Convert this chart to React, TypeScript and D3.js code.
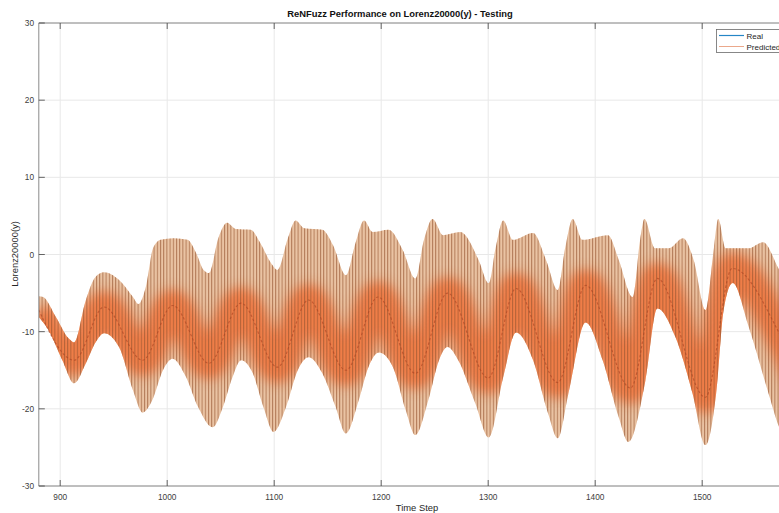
import React from 'react';
import * as d3 from 'd3';

const W = 779;
const H = 513;

const xTicks = [900, 1000, 1100, 1200, 1300, 1400, 1500];
const yTicks = [-30, -20, -10, 0, 10, 20, 30];

const titleText = 'ReNFuzz Performance on Lorenz20000(y) - Testing';
const xLabelText = 'Time Step';
const yLabelText = 'Lorenz20000(y)';
const legendLabels = ['Real', 'Predicted'];

// Real series (smooth curve), key points
const realSteps = [880, 913, 941, 977, 1005, 1039, 1069, 1103, 1132, 1167, 1197, 1232, 1262, 1300, 1326, 1365, 1391, 1433, 1458, 1503, 1528, 1572, 1600];
const realValues = [-7.2, -13.7, -6.8, -13.7, -6.6, -14.1, -6.3, -14.6, -5.9, -15.0, -5.5, -15.4, -5.0, -16.0, -4.4, -16.6, -4.0, -17.3, -3.1, -18.5, -1.8, -10.2, -19];

// Predicted series: upper envelope of the fast oscillation
const predUpperSteps = [880, 884, 896, 908, 913, 924, 933, 941, 955, 968, 973, 980, 987, 994, 1006, 1019, 1027, 1034, 1039, 1048, 1056, 1064, 1078, 1087, 1097, 1103, 1113, 1120, 1128, 1145, 1155, 1167, 1176, 1184, 1192, 1207, 1220, 1232, 1240, 1248, 1258, 1274, 1291, 1300.5, 1307, 1314, 1323, 1342, 1354, 1365, 1372, 1379, 1388, 1412, 1422, 1435, 1442, 1446, 1456, 1469, 1482, 1492, 1503, 1511, 1515, 1522, 1543, 1557, 1572, 1590];
const predUpperValues = [-5.4, -5.5, -8.1, -10.9, -11.4, -5.9, -2.9, -2.3, -3.3, -5.5, -6.4, -4.2, 0.9, 1.9, 2.1, 1.9, 0.2, -2.0, -2.4, 2.2, 4.1, 3.3, 3.2, 1.5, -1.1, -2.0, 2.2, 4.4, 3.4, 3.2, 1.2, -2.7, 1.5, 4.4, 2.9, 3.2, 0.6, -3.1, 1.9, 4.6, 2.5, 2.9, -0.7, -3.7, 0.9, 4.4, 1.9, 2.8, -0.7, -4.6, 0.9, 4.6, 1.9, 2.5, -0.7, -5.5, 1.9, 4.6, 0.8, 0.8, 2.1, -0.7, -7.2, 0.9, 4.6, 0.8, 0.8, 1.6, -2.0, -6.0];

// Predicted series: lower envelope of the fast oscillation
const predLowerSteps = [880, 889, 902, 913, 924, 933, 941, 955, 968, 977, 986, 996, 1005, 1017, 1029, 1042.5, 1052, 1061, 1069, 1080, 1090, 1099.5, 1111, 1122, 1132, 1145, 1157.5, 1167, 1179, 1188, 1198, 1211, 1223, 1232, 1244, 1254, 1262, 1272, 1288, 1300.5, 1314, 1326, 1342, 1356, 1365, 1375, 1391, 1407, 1422, 1431, 1447, 1458, 1475, 1491, 1503, 1513, 1520, 1528.5, 1543.5, 1562, 1572, 1590];
const predLowerValues = [-8.1, -9.8, -13.7, -16.7, -14.1, -11.4, -10.2, -12.0, -17.6, -20.5, -18.9, -15.0, -13.5, -15.7, -19.8, -22.4, -19.8, -15.9, -13.7, -15.4, -19.8, -23.0, -19.8, -15.0, -13.3, -15.4, -19.8, -23.2, -18.9, -14.6, -12.7, -14.6, -20.2, -23.4, -18.9, -13.7, -12.0, -13.7, -19.3, -23.7, -15.9, -10.1, -13.7, -20.6, -23.8, -18.0, -8.8, -13.7, -21.1, -24.3, -16.3, -7.0, -10.7, -18.0, -24.7, -18.0, -7.2, -3.7, -9.4, -18.0, -22.4, -25.5];

const FONT = '"Liberation Sans", Arial, Helvetica, sans-serif';

export default function App() {
  const left = 38.8;
  const top = 23;
  const bottom = 486;
  const x = d3.scaleLinear().domain([880, 1600]).range([left, 809.2]);
  const y = d3.scaleLinear().domain([-30, 30]).range([bottom, top]);

  type P = [number, number];
  const real: P[] = realSteps.map((t, i) => [t, realValues[i]]);
  const upper: P[] = predUpperSteps.map((t, i) => [t, predUpperValues[i]]);
  const lower: P[] = predLowerSteps.map((t, i) => [t, predLowerValues[i]]);

  const belowUpper = d3
    .area<P>()
    .x((d) => x(d[0]))
    .y0(700)
    .y1((d) => y(d[1]))
    .curve(d3.curveMonotoneX)(upper) as string;
  const aboveLower = d3
    .area<P>()
    .x((d) => x(d[0]))
    .y0(-200)
    .y1((d) => y(d[1]))
    .curve(d3.curveMonotoneX)(lower) as string;
  const realPath = d3
    .line<P>()
    .x((d) => x(d[0]))
    .y((d) => y(d[1]))
    .curve(d3.curveMonotoneX)(real) as string;

  const plotRight = W + 5;

  return (
    <div style={{ position: 'absolute', left: 0, top: 0, width: W, height: H, background: '#fff' }}>
      <svg width={W} height={H} style={{ display: 'block' }} fontFamily={FONT}>
        <defs>
          <clipPath id="plotClip">
            <rect x={left} y={top} width={plotRight - left} height={bottom - top} />
          </clipPath>
          <clipPath id="belowUpper">
            <path d={belowUpper} />
          </clipPath>
          <clipPath id="aboveLower">
            <path d={aboveLower} />
          </clipPath>
          <pattern id="stripes" patternUnits="userSpaceOnUse" width={3.2} height={20}>
            <rect x={0} y={0} width={1.0} height={20} fill="#93532f" />
          </pattern>
          <filter id="glow" x="-5%" y="-50%" width="110%" height="200%">
            <feGaussianBlur stdDeviation={6} />
          </filter>
        </defs>

        <rect x={0} y={0} width={W} height={H} fill="#fff" />

        {/* grid */}
        <g stroke="#e8e8e8" strokeWidth={1}>
          {xTicks.map((t) => (
            <line key={'gx' + t} x1={x(t)} x2={x(t)} y1={top} y2={bottom} />
          ))}
          {yTicks.map((v) => (
            <line key={'gy' + v} x1={left} x2={plotRight} y1={y(v)} y2={y(v)} />
          ))}
        </g>

        {/* predicted band */}
        <g clipPath="url(#plotClip)">
          <g clipPath="url(#belowUpper)">
            <g clipPath="url(#aboveLower)">
              <rect x={left} y={top} width={plotRight - left} height={bottom - top} fill="#eac3a3" />
              <path d={realPath} fill="none" stroke="#f0692e" strokeWidth={32} opacity={0.78} filter="url(#glow)" />
              <rect x={left} y={top} width={plotRight - left} height={bottom - top} fill="url(#stripes)" opacity={0.66} />
            </g>
          </g>
          <path d={realPath} fill="none" stroke="#a8401f" strokeWidth={1.1} strokeDasharray="2.5 2" opacity={0.6} />
        </g>

        {/* axes lines */}
        <g stroke="#8a8a8a" strokeWidth={1} fill="none">
          <line x1={left} x2={left} y1={top} y2={bottom} />
          <line x1={left} x2={plotRight} y1={bottom} y2={bottom} />
          <line x1={left} x2={plotRight} y1={top} y2={top} />
        </g>

        {/* ticks */}
        <g stroke="#404040" strokeWidth={0.8}>
          {xTicks.map((t) => (
            <g key={'tx' + t}>
              <line x1={x(t)} x2={x(t)} y1={bottom} y2={bottom - 6} />
              <line x1={x(t)} x2={x(t)} y1={top} y2={top + 6} />
            </g>
          ))}
          {yTicks.map((v) => (
            <line key={'ty' + v} x1={left} x2={left + 6} y1={y(v)} y2={y(v)} />
          ))}
        </g>

        {/* tick labels */}
        <g fontSize={8.3} fill="#404040">
          {xTicks.map((t) => (
            <text key={'lx' + t} x={x(t)} y={500} textAnchor="middle">
              {t}
            </text>
          ))}
          {yTicks.map((v) => (
            <text key={'ly' + v} x={34} y={y(v) + 3} textAnchor="end">
              {v}
            </text>
          ))}
        </g>

        {/* labels */}
        <text x={400} y={17} textAnchor="middle" fontSize={9.4} fontWeight="bold" fill="#111">
          {titleText}
        </text>
        <text x={417} y={511} textAnchor="middle" fontSize={9.4} fill="#262626">
          {xLabelText}
        </text>
        <text transform="translate(18,254) rotate(-90)" textAnchor="middle" fontSize={9.4} fill="#262626">
          {yLabelText}
        </text>

        {/* legend */}
        <g>
          <rect x={716.5} y={29.5} width={80} height={23} fill="#fff" stroke="#6a6a6a" strokeWidth={0.8} />
          <line x1={719} x2={744} y1={35.5} y2={35.5} stroke="#0072BD" strokeWidth={1.2} opacity={0.85} />
          <line x1={719} x2={744} y1={46.5} y2={46.5} stroke="#D95319" strokeWidth={1} opacity={0.5} />
          <text x={746.5} y={38.5} fontSize={8} fill="#262626">
            {legendLabels[0]}
          </text>
          <text x={746.5} y={49.5} fontSize={8} fill="#262626">
            {legendLabels[1]}
          </text>
        </g>
      </svg>
    </div>
  );
}
